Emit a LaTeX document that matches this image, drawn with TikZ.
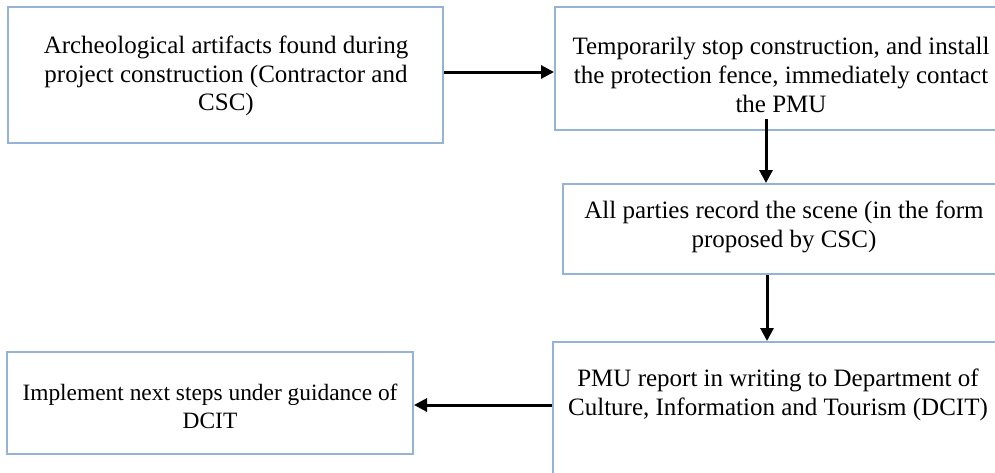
\documentclass[tikz,border=0pt]{standalone}
\usepackage{fontspec}
\setmainfont{Liberation Serif}
\usetikzlibrary{arrows.meta}
\definecolor{boxblue}{RGB}{149,179,215}
\begin{document}
\begin{tikzpicture}[x=1pt,y=-1pt,
  box/.style={draw=boxblue, line width=2pt, rectangle, inner sep=0pt, fill=white},
  txt/.style={align=center, inner sep=0pt, font=\fontsize{25}{28.75}\selectfont},
  arr/.style={line width=3pt, -{Triangle[length=13pt,width=13pt]}}]
\useasboundingbox (0,0) rectangle (995,472);
\clip (0,0) rectangle (995,472);
% boxes
\node[box, minimum width=435pt, minimum height=136pt] (b1) at (225.5,75) {};
\node[box, minimum width=452pt, minimum height=123pt] (b2) at (781,68.5) {};
\node[box, minimum width=442pt, minimum height=90pt] (b3) at (784,229) {};
\node[box, minimum width=450pt, minimum height=140pt] (b4) at (778,412) {};
\node[box, minimum width=406pt, minimum height=102pt] (b5) at (210,403) {};
% texts
\node[txt] (t1) at (226,76) {Archeological artifacts found during\\project construction (Contractor and\\CSC)};
\node[txt] (t2) at (781,75) {Temporarily stop construction, and install\\the protection fence, immediately contact\\the PMU};
\node[txt] (t3) at (784,227) {All parties record the scene (in the form\\proposed by CSC)};
\node[txt] (t4) at (778,395) {PMU report in writing to Department of\\Culture, Information and Tourism (DCIT)};
\node[txt, font=\fontsize{23.4}{28}\selectfont] (t5) at (210,406) {Implement next steps under guidance of\\DCIT};
% connectors
\coordinate (c1) at (0,72);
\coordinate (c2) at (766,0);
\coordinate (c3) at (767,0);
\coordinate (c4) at (0,405);
\draw[arr] (b1.east |- c1) -- (b2.west |- c1);
\draw[arr] ([yshift=12pt]b2.south -| c2) -- (b3.north -| c2);
\draw[arr] (b3.south -| c3) -- (b4.north -| c3);
\draw[arr] (b4.west |- c4) -- (b5.east |- c4);
\end{tikzpicture}
\end{document}
